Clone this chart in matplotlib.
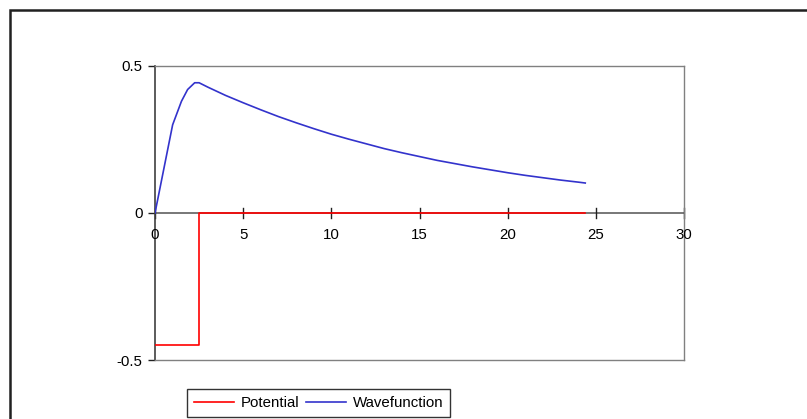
import matplotlib
matplotlib.use("Agg")
import matplotlib.pyplot as plt
from matplotlib.patches import Rectangle

plt.rcParams['font.family'] = ['Liberation Sans', 'DejaVu Sans']

# Data
pot_x = [0, 2.5, 2.5, 24.4]
pot_y = [-0.45, -0.45, 0.0, 0.0]

wave_x = [0, 0.5, 1.0, 1.5, 1.85, 2.25, 2.5, 3, 4, 5, 6, 7, 8, 9, 10, 11, 12, 13,
          14, 15, 16, 17, 18, 19, 20, 21, 22, 23, 24, 24.4]
wave_y = [0.0, 0.15, 0.30, 0.38, 0.42, 0.443, 0.443, 0.428, 0.400, 0.375, 0.351,
          0.328, 0.307, 0.287, 0.268, 0.251, 0.235, 0.219, 0.205, 0.192, 0.179,
          0.168, 0.157, 0.147, 0.137, 0.128, 0.120, 0.112, 0.105, 0.102]

x_ticks = [0, 5, 10, 15, 20, 25, 30]
y_ticks = [-0.5, 0, 0.5]
y_labels = ['-0.5', '0', '0.5']

FS = 10.8
W, H = 807, 419
fig = plt.figure(figsize=(W / 100, H / 100), dpi=100)

# outer chart border (cropped on right/bottom)
fig.patches.append(Rectangle((9.5 / W, -0.1), 1.2, 1 - 10.5 / H + 0.1,
                             transform=fig.transFigure, fill=False,
                             edgecolor='#202020', linewidth=1.8))

ax = fig.add_axes([155 / W, 1 - 360 / H, (684 - 155) / W, (360 - 66) / H])
ax.set_xlim(0, 30)
ax.set_ylim(-0.5, 0.5)

ax.plot(pot_x, pot_y, color='#ff0000', linewidth=1.2, label='Potential', zorder=3)
ax.plot(wave_x, wave_y, color='#3333cc', linewidth=1.2, label='Wavefunction', zorder=3)

for s in ['top', 'right', 'bottom']:
    ax.spines[s].set_color('#808080')
    ax.spines[s].set_linewidth(1.0)
ax.spines['left'].set_color('#404040')
ax.spines['left'].set_linewidth(1.2)

# x axis drawn at y = 0
ax.axhline(0, color='#606060', linewidth=1.2, zorder=2)
ax.set_yticks(y_ticks)
ax.set_yticklabels(y_labels)
ax.tick_params(axis='y', direction='out', length=5, width=1, color='#202020',
               labelsize=FS, pad=4)

ax.set_xticks(x_ticks)
ax.tick_params(axis='x', bottom=False, labelbottom=False)
for xt in x_ticks:
    ax.plot([xt, xt], [-0.017, 0.017], color='#202020', linewidth=1, zorder=2,
            clip_on=False)
    ax.text(xt, -0.05, str(xt), ha='center', va='top', fontsize=FS, color='black')

leg = fig.legend(loc='upper left', bbox_to_anchor=(187 / W, 1 - 389 / H),
                 ncol=2, fontsize=FS, frameon=True, fancybox=False,
                 edgecolor='black', handlelength=2.7, handletextpad=0.45,
                 columnspacing=0.4, borderpad=0.45, borderaxespad=0)
leg.get_frame().set_linewidth(1.0)
for t in leg.get_texts():
    t.set_text(t.get_text())

fig.savefig('out.png', dpi=100)
